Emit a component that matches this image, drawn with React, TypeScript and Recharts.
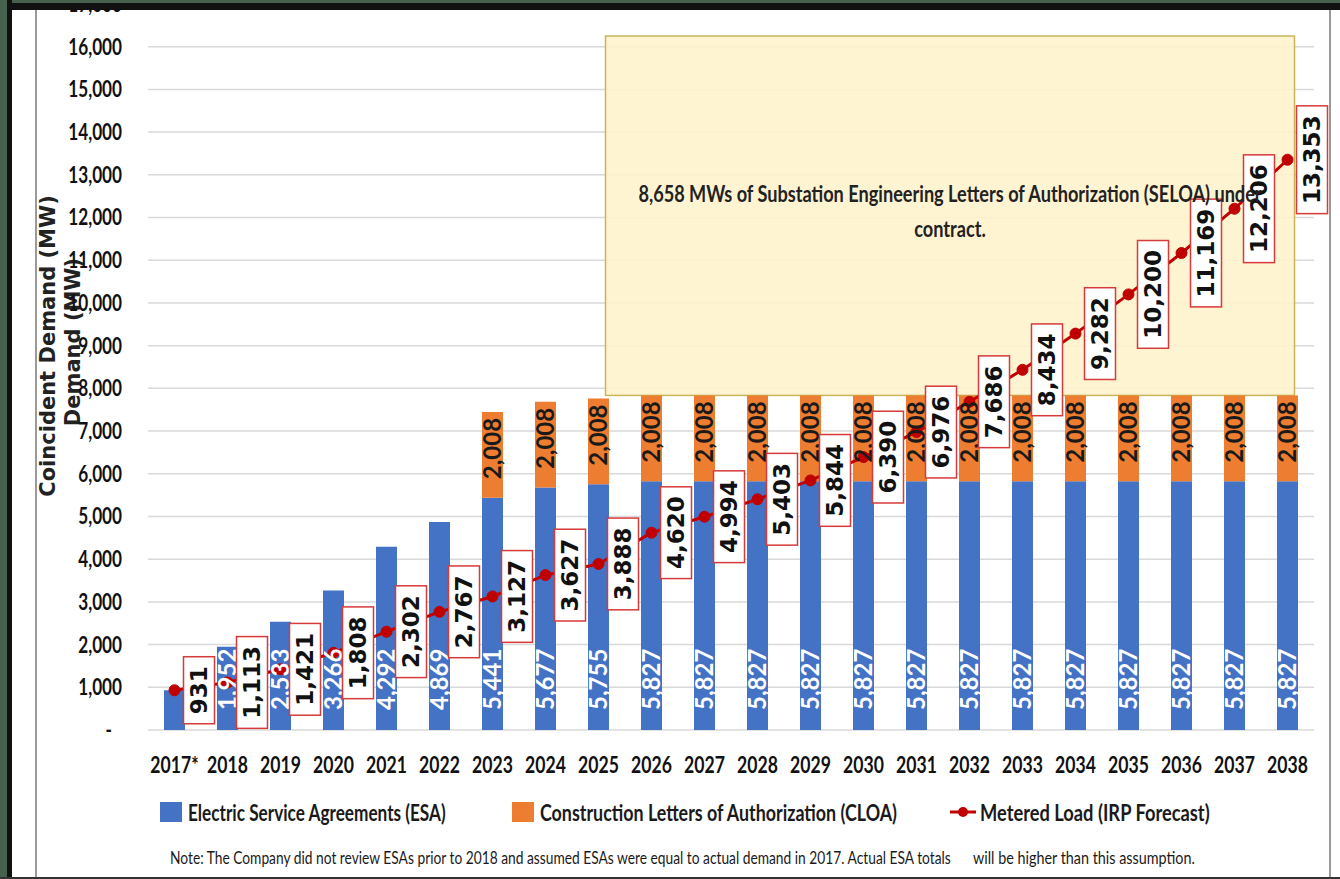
import React from "react";
import {
  ComposedChart,
  Bar,
  Line,
  XAxis,
  YAxis,
  CartesianGrid,
  LabelList,
  ReferenceArea,
} from "recharts";

// chart values
const years = [
  "2017*", "2018", "2019", "2020", "2021", "2022", "2023", "2024", "2025", "2026", "2027",
  "2028", "2029", "2030", "2031", "2032", "2033", "2034", "2035", "2036", "2037", "2038",
];
const esaValues = [
  931, 1952, 2533, 3266, 4292, 4869, 5441, 5677, 5755, 5827, 5827,
  5827, 5827, 5827, 5827, 5827, 5827, 5827, 5827, 5827, 5827, 5827,
];
const cloaValues = [
  0, 0, 0, 0, 0, 0, 2008, 2008, 2008, 2008, 2008,
  2008, 2008, 2008, 2008, 2008, 2008, 2008, 2008, 2008, 2008, 2008,
];
const meteredLoad = [
  931, 1113, 1421, 1808, 2302, 2767, 3127, 3627, 3888, 4620, 4994,
  5403, 5844, 6390, 6976, 7686, 8434, 9282, 10200, 11169, 12206, 13353,
];
const yTicks = [
  0, 1000, 2000, 3000, 4000, 5000, 6000, 7000, 8000, 9000,
  10000, 11000, 12000, 13000, 14000, 15000, 16000, 17000,
];
// SELOA call-out box (category range, MW range)
const seloaFrom = "2025";
const seloaTo = "2038";
const seloaLow = 7835;
const seloaHigh = 16250;
const seloaText = [
  "8,658 MWs of Substation Engineering Letters of Authorization (SELOA) under",
  "contract.",
];

const data = years.map((year, i) => ({
  year,
  esa: esaValues[i],
  cloa: cloaValues[i],
  load: meteredLoad[i],
}));

const BLUE = "#4472c4";
const ORANGE = "#ed7d31";
const RED = "#c00000";
const NARROW = "Lato, sans-serif";

const fmt = (v: number) => Number(v).toLocaleString("en-US");

function XTick({ x, y, payload }: any) {
  return (
    <g transform={`translate(${x},${y})`}>
      <text
        transform="scale(0.8,1)"
        textAnchor="middle"
        dy="0.72em"
        fontFamily={NARROW}
        fontWeight={700}
        fontSize={22}
        fill="#111"
      >
        {payload.value}
      </text>
    </g>
  );
}

function YTick({ x, y, payload }: any) {
  const zero = payload.value === 0;
  return (
    <g transform={`translate(${zero ? x - 10 : x},${y})`}>
      <text
        transform="scale(0.78,1)"
        textAnchor="end"
        dy="0.36em"
        fontFamily={NARROW}
        fontWeight={700}
        fontSize={22}
        fill="#111"
      >
        {zero ? "-" : fmt(payload.value)}
      </text>
    </g>
  );
}

function AxisTitle({ viewBox }: any) {
  const cy = viewBox.y + viewBox.height / 2;
  const common = {
    textAnchor: "middle" as const,
    dy: "0.36em",
    fontFamily: "DejaVu Sans",
    fontWeight: 700,
    fontSize: 21,
    fill: "#222",
  };
  return (
    <g>
      <text transform={`translate(${viewBox.x + 47},${cy - 21}) rotate(-90)`} {...common}>
        Coincident Demand (MW)
      </text>
      <text transform={`translate(${viewBox.x + 72},${cy - 25}) rotate(-90)`} {...common}>
        Demand (MW)
      </text>
    </g>
  );
}

function EsaLabel({ x, y, width, height, value }: any) {
  if (!value || height < 70) return null;
  return (
    <text
      transform={`translate(${x + width / 2},${y + height - 20}) rotate(-90)`}
      textAnchor="start"
      dy="0.36em"
      fontFamily={NARROW}
      fontWeight={700}
      fontSize={24}
      fill="#fff"
    >
      {fmt(value)}
    </text>
  );
}

function CloaLabel({ x, y, width, value }: any) {
  if (!value) return null;
  return (
    <text
      transform={`translate(${x + width / 2},${y + 6}) rotate(-90)`}
      textAnchor="end"
      dy="0.36em"
      fontFamily={NARROW}
      fontWeight={700}
      fontSize={24}
      fill="#1a1a1a"
    >
      {fmt(value)}
    </text>
  );
}

function LoadLabel({ x, y, value }: any) {
  const text = fmt(value);
  const fs = 23;
  const digits = text.replace(/,/g, "").length;
  const commas = text.length - digits;
  const len = digits * 0.696 * fs + commas * 0.38 * fs + 19;
  const bw = 31;
  const bx = x + 9;
  return (
    <g>
      <rect x={bx} y={y - len / 2} width={bw} height={len} fill="#fff" stroke="#d63a3a" strokeWidth={1.5} />
      <text
        transform={`translate(${bx + bw / 2},${y}) rotate(-90)`}
        textAnchor="middle"
        dy="0.36em"
        fontFamily="DejaVu Sans"
        fontWeight={700}
        fontSize={fs}
        fill="#111"
      >
        {text}
      </text>
    </g>
  );
}

// the call-out starts mid-way through the 2025 band and ends just left of the 2038 band edge
const boxRect = (x: number, width: number) => ({ bx: x + 33.5, bw: width - 53 });

function SeloaBox({ x, y, width, height }: any) {
  const { bx, bw } = boxRect(x, width);
  return (
    <rect x={bx} y={y} width={bw} height={height} fill="#fff2cc" fillOpacity={0.88} stroke="#c9b458" strokeWidth={1.5} />
  );
}

function SeloaText({ x, y, width, height }: any) {
  const { bx, bw } = boxRect(x, width);
  const cx = bx + bw / 2;
  const cy = y + height / 2;
  return (
    <g>
      {seloaText.map((t, i) => (
        <g key={i} transform={`translate(${cx},${cy - 22 + i * 35})`}>
          <text
            transform="scale(0.825,1)"
            textAnchor="middle"
            dy="0.36em"
            fontFamily={NARROW}
            fontWeight={700}
            fontSize={22}
            fill="#222"
          >
            {t}
          </text>
        </g>
      ))}
    </g>
  );
}

const squash = (s: number): React.CSSProperties => ({
  position: "absolute",
  whiteSpace: "nowrap",
  transform: `scaleX(${s})`,
  transformOrigin: "0 50%",
  fontFamily: NARROW,
  color: "#1a1a1a",
});

export default function App() {
  const textArea: any = { zIndex: 3000 };
  return (
    <div style={{ position: "fixed", left: 0, top: 0, width: 1340, height: 879, background: "#111", overflow: "hidden" }}>
      {/* white slide */}
      <div style={{ position: "absolute", left: 12, top: 10, width: 1328, height: 867, background: "#fff" }} />
      <div style={{ position: "absolute", left: 35, top: 10, width: 1.5, height: 867, background: "#9a9a9a" }} />
      <div style={{ position: "absolute", left: 1329, top: 10, width: 1.5, height: 867, background: "#9a9a9a" }} />

      {/* Chart */}
      <div style={{ position: "absolute", left: 0, top: 0 }}>
        <ComposedChart width={1340} height={780} data={data} margin={{ top: 4, right: 26, bottom: 0, left: 0 }}>
          <CartesianGrid vertical={false} stroke="#d9d9d9" strokeWidth={1.5} />
          <XAxis
            dataKey="year"
            height={50}
            axisLine={false}
            tickLine={false}
            tickSize={0}
            tickMargin={27}
            interval={0}
            tick={<XTick />}
          />
          <YAxis
            width={148}
            domain={[0, 17000]}
            ticks={yTicks}
            axisLine={false}
            tickLine={false}
            tickSize={0}
            tickMargin={26}
            interval={0}
            tick={<YTick />}
            label={<AxisTitle />}
          />
          <Bar dataKey="esa" stackId="a" fill={BLUE} barSize={21} isAnimationActive={false}>
            <LabelList dataKey="esa" content={<EsaLabel />} />
          </Bar>
          <Bar dataKey="cloa" stackId="a" fill={ORANGE} barSize={21} isAnimationActive={false}>
            <LabelList dataKey="cloa" content={<CloaLabel />} />
          </Bar>
          <ReferenceArea
            x1={seloaFrom}
            x2={seloaTo}
            y1={seloaLow}
            y2={seloaHigh}
            ifOverflow="visible"
            shape={(p: any) => <SeloaBox {...p} />}
          />
          <Line
            type="linear"
            dataKey="load"
            stroke={RED}
            strokeWidth={3}
            dot={{ r: 5.5, fill: RED, stroke: RED, strokeWidth: 1 }}
            isAnimationActive={false}
          >
            <LabelList dataKey="load" content={<LoadLabel />} />
          </Line>
          <ReferenceArea
            x1={seloaFrom}
            x2={seloaTo}
            y1={seloaLow}
            y2={seloaHigh}
            ifOverflow="visible"
            {...textArea}
            shape={(p: any) => <SeloaText {...p} />}
          />
        </ComposedChart>
      </div>

      {/* Legend */}
      <div style={{ position: "absolute", left: 160, top: 802, width: 22, height: 20, background: BLUE }} />
      <div style={{ ...squash(0.747), left: 188, top: 798, fontSize: 23, lineHeight: "28px", fontWeight: 700 }}>
        Electric Service Agreements (ESA)
      </div>
      <div style={{ position: "absolute", left: 512, top: 802, width: 22, height: 20, background: ORANGE }} />
      <div style={{ ...squash(0.776), left: 540, top: 798, fontSize: 23, lineHeight: "28px", fontWeight: 700 }}>
        Construction Letters of Authorization (CLOA)
      </div>
      <svg style={{ position: "absolute", left: 948, top: 802 }} width={30} height={20}>
        <line x1={2} y1={10} x2={28} y2={10} stroke={RED} strokeWidth={3} />
        <circle cx={15} cy={10} r={5} fill={RED} />
      </svg>
      <div style={{ ...squash(0.795), left: 980, top: 798, fontSize: 23, lineHeight: "28px", fontWeight: 700 }}>
        Metered Load (IRP Forecast)
      </div>

      {/* Note */}
      <div style={{ ...squash(0.81), left: 170, top: 848, fontSize: 17, lineHeight: "20px" }}>
        Note: The Company did not review ESAs prior to 2018 and assumed ESAs were equal to actual demand in 2017. Actual ESA totals
      </div>
      <div style={{ ...squash(0.845), left: 973, top: 848, fontSize: 17, lineHeight: "20px" }}>
        will be higher than this assumption.
      </div>

      {/* photo frame edges */}
      <div style={{ position: "absolute", left: 0, top: 0, width: 1340, height: 10, background: "#111" }} />
      <div style={{ position: "absolute", left: 0, top: 0, width: 1340, height: 3, background: "#46624f" }} />
      <div style={{ position: "absolute", left: 0, top: 0, width: 12, height: 879, background: "#111" }} />
      <div style={{ position: "absolute", left: 0, top: 0, width: 7, height: 879, background: "#46624f" }} />
      <div style={{ position: "absolute", left: 0, top: 877, width: 1340, height: 2, background: "#333" }} />
    </div>
  );
}
